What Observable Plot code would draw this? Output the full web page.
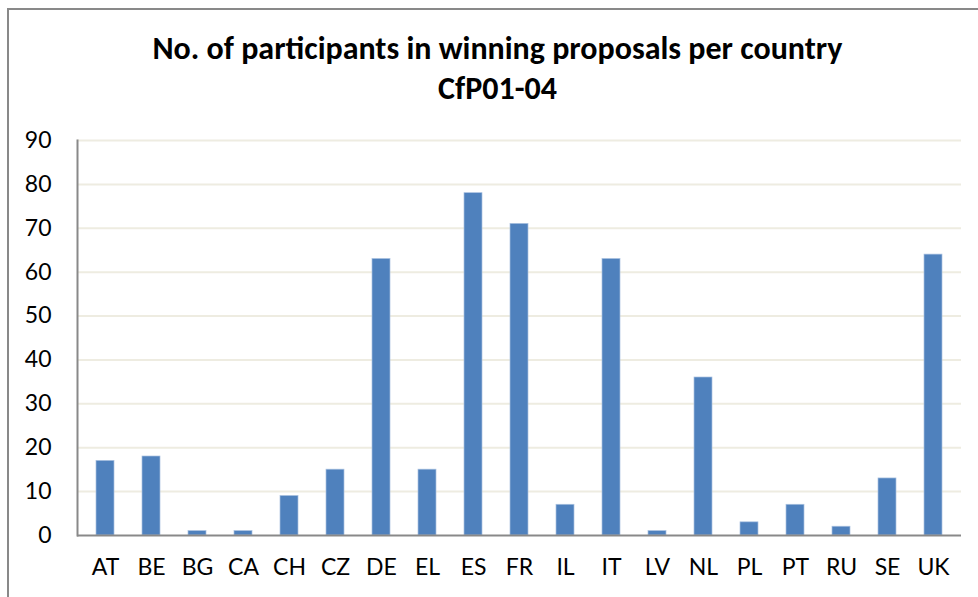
<!DOCTYPE html>
<html>
<head>
<meta charset="utf-8">
<script src="https://cdn.jsdelivr.net/npm/d3@7"></script>
<script src="https://cdn.jsdelivr.net/npm/@observablehq/plot@0.6"></script>
<style>
  html, body { margin: 0; padding: 0; background: #fff; }
  #wrap { position: relative; width: 978px; height: 597px; overflow: hidden; font-family: Carlito, Calibri, Lato, sans-serif; }
  #border { position: absolute; left: 7px; top: 8px; right: -10px; bottom: -10px; border-left: 2px solid #898989; border-top: 2px solid #898989; }
  #title { position: absolute; left: 0; top: 29px; width: 995px; text-align: center; font-weight: bold; font-size: 32px; line-height: 40px; color: #000; }
  #chart { position: absolute; left: 0; top: 0; }
  #chart svg text { font-size: 23px !important; font-family: Lato, sans-serif !important; }
</style>
</head>
<body>
<div id="wrap">
  <div id="border"></div>
  <div id="title">No. of participants in winning proposals per country<br>CfP01-04</div>
  <div id="chart"></div>
</div>
<script>
const countries = ["AT","BE","BG","CA","CH","CZ","DE","EL","ES","FR","IL","IT","LV","NL","PL","PT","RU","SE","UK"];
const participants = [17,18,1,1,9,15,63,15,78,71,7,63,1,36,3,7,2,13,64];
const yTicks = [0,10,20,30,40,50,60,70,80,90];

const data = countries.map((c, i) => ({country: c, value: participants[i]}));

const chart = Plot.plot({
  width: 978,
  height: 597,
  marginTop: 140,
  marginBottom: 62,
  marginLeft: 77,
  marginRight: 17,
  style: {fontFamily: "Lato, sans-serif", fontSize: "23px", color: "#000", background: "transparent"},
  x: {domain: countries, paddingInner: 0.6, paddingOuter: 0.3, label: null},
  y: {domain: [0, 90], label: null},
  marks: [
    Plot.ruleY(yTicks.filter(d => d > 0), {stroke: "#EEECE1", strokeWidth: 2}),
    Plot.barY(data, {x: "country", y: "value", fill: "#4F81BD", stroke: "#A9C1E0", strokeWidth: 0.7}),
    Plot.frame({anchor: "left", stroke: "#898989", strokeWidth: 2}),
    Plot.ruleY([0], {stroke: "#898989", strokeWidth: 2}),
    Plot.axisY({ticks: yTicks, tickSize: 0, tickPadding: 26, fontSize: 23, label: null}),
    Plot.axisX({tickSize: 0, tickPadding: 23, fontSize: 23, label: null})
  ]
});
document.getElementById("chart").appendChild(chart);
</script>
</body>
</html>
